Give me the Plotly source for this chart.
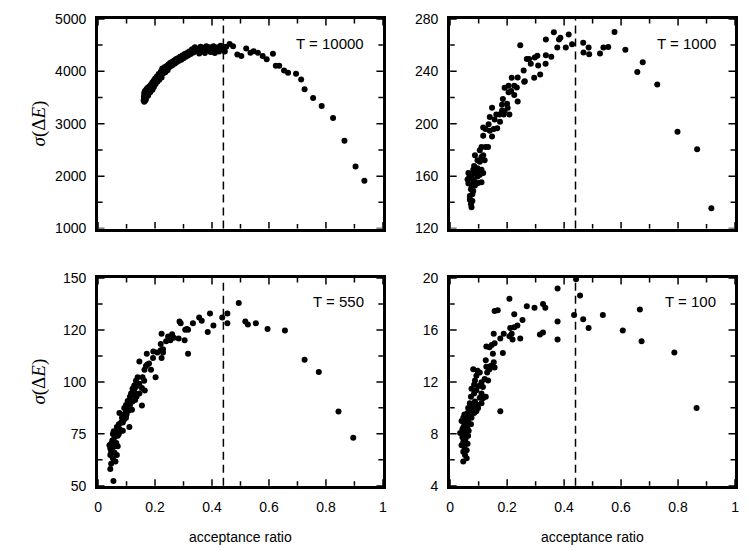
import plotly.graph_objects as go

# ---------------- data ----------------
T_labels = ["T = 10000", "T = 1000", "T = 550", "T = 100"]
optimal_ratio = 0.44

acc_10000 = [0.160, 0.161, 0.162, 0.163, 0.164, 0.165, 0.166, 0.167, 0.168, 0.169, 0.170, 0.171, 0.172, 0.173,
             0.174, 0.175, 0.176, 0.178, 0.179, 0.180, 0.182, 0.183, 0.185, 0.186, 0.188, 0.190, 0.191, 0.193,
             0.195, 0.196, 0.198, 0.200, 0.202, 0.204, 0.206, 0.208, 0.210, 0.213, 0.215, 0.218, 0.220, 0.223,
             0.225, 0.228, 0.230, 0.233, 0.236, 0.238, 0.241, 0.244, 0.247, 0.250, 0.253, 0.256, 0.259, 0.262,
             0.266, 0.270, 0.273, 0.277, 0.280, 0.284, 0.288, 0.292, 0.296, 0.300, 0.304, 0.308, 0.312, 0.316,
             0.320, 0.325, 0.330, 0.335, 0.340, 0.345, 0.350, 0.355, 0.360, 0.365, 0.370, 0.375, 0.380, 0.385,
             0.390, 0.395, 0.400, 0.405, 0.410, 0.415, 0.420, 0.425, 0.430, 0.435, 0.440, 0.445, 0.450, 0.162,
             0.165, 0.462, 0.474, 0.489, 0.503, 0.520, 0.535, 0.546, 0.561, 0.578, 0.592, 0.614, 0.624, 0.636,
             0.653, 0.667, 0.695, 0.713, 0.725, 0.755, 0.785, 0.825, 0.865, 0.904, 0.935]
sig_10000 = [3450, 3520, 3580, 3480, 3620, 3550, 3500, 3600, 3460, 3650, 3560, 3520, 3610, 3680,
             3580, 3640, 3540, 3700, 3620, 3660, 3720, 3600, 3680, 3750, 3700, 3780, 3650, 3740,
             3820, 3700, 3790, 3860, 3760, 3830, 3900, 3800, 3870, 3950, 3840, 3920, 3990, 3880,
             4050, 3960, 4010, 4080, 3980, 4040, 4100, 4020, 4130, 4080, 4160, 4100, 4180, 4120,
             4200, 4150, 4230, 4180, 4250, 4200, 4280, 4220, 4300, 4250, 4330, 4280, 4350, 4300,
             4380, 4330, 4420, 4360, 4460, 4390, 4430, 4340, 4470, 4400, 4450, 4350, 4480, 4410,
             4460, 4370, 4440, 4480, 4350, 4420, 4460, 4380, 4490, 4420, 4460, 4380, 4470, 3420,
             3440, 4520, 4477, 4323, 4292, 4434, 4354, 4385, 4354, 4292, 4231, 4335, 4108, 4108,
             4015, 3972, 3954, 3843, 3660, 3492, 3338, 3111, 2674, 2182, 1911]

acc_1000 = [0.577, 0.615, 0.657, 0.676, 0.727, 0.798, 0.867, 0.917, 0.467, 0.468, 0.486, 0.488, 0.526, 0.538,
            0.555, 0.428, 0.416, 0.406, 0.387, 0.382, 0.364, 0.376, 0.355, 0.336, 0.336, 0.335, 0.316, 0.309,
            0.306, 0.297, 0.295, 0.283, 0.277, 0.269, 0.262, 0.258, 0.260, 0.246, 0.237, 0.234, 0.237, 0.225,
            0.225, 0.216, 0.205, 0.214, 0.205, 0.200, 0.191, 0.185, 0.182, 0.191, 0.188, 0.208, 0.202, 0.182,
            0.173, 0.162, 0.156, 0.147, 0.175, 0.165, 0.153, 0.139, 0.135, 0.147, 0.139, 0.124, 0.116, 0.116,
            0.124, 0.133, 0.110, 0.104, 0.116, 0.121, 0.110, 0.104, 0.096, 0.087, 0.084, 0.096, 0.110, 0.116,
            0.104, 0.096, 0.081, 0.075, 0.081, 0.110, 0.098, 0.087, 0.075, 0.064, 0.066, 0.073, 0.078, 0.069,
            0.078, 0.073, 0.075, 0.069, 0.084, 0.064, 0.061, 0.081, 0.084, 0.093]
sig_1000 = [270.0, 256.4, 239.4, 246.9, 230.0, 193.9, 180.5, 135.4, 261.8, 254.4, 258.1, 253.1, 253.6, 258.1,
            258.6, 260.6, 268.1, 258.1, 265.6, 264.3, 269.8, 258.1, 251.1, 264.3, 252.3, 245.7, 237.5, 244.4,
            251.9, 250.6, 235.0, 245.7, 249.4, 249.4, 232.5, 240.7, 232.0, 259.9, 235.2, 227.7, 217.0, 229.0,
            222.0, 235.0, 229.0, 225.0, 224.0, 215.3, 227.5, 218.8, 214.5, 209.6, 207.1, 207.1, 212.1, 210.0,
            207.1, 207.1, 203.3, 212.1, 201.6, 196.6, 195.9, 205.1, 199.6, 190.2, 194.6, 195.9, 197.1, 190.9,
            182.2, 182.2, 182.2, 179.7, 176.0, 172.2, 174.7, 171.0, 172.2, 176.0, 167.8, 166.0, 164.8, 162.3,
            161.1, 159.8, 164.8, 159.8, 157.4, 155.3, 154.8, 152.8, 153.5, 154.3, 158.6, 149.9, 146.1, 144.9,
            141.1, 138.7, 136.2, 141.9, 156.1, 162.3, 157.4, 148.6, 162.3, 163.6]

acc_550 = [0.494, 0.454, 0.454, 0.436, 0.393, 0.405, 0.385, 0.364, 0.355, 0.333, 0.316, 0.312, 0.306, 0.316,
           0.304, 0.290, 0.286, 0.283, 0.266, 0.260, 0.254, 0.246, 0.239, 0.223, 0.220, 0.228, 0.228, 0.223,
           0.220, 0.208, 0.202, 0.194, 0.193, 0.186, 0.179, 0.171, 0.173, 0.168, 0.163, 0.145, 0.162, 0.156,
           0.154, 0.164, 0.154, 0.145, 0.133, 0.133, 0.127, 0.145, 0.135, 0.121, 0.119, 0.112, 0.121, 0.112,
           0.104, 0.098, 0.107, 0.098, 0.092, 0.089, 0.084, 0.098, 0.110, 0.081, 0.075, 0.073, 0.066, 0.075,
           0.081, 0.064, 0.055, 0.058, 0.069, 0.054, 0.046, 0.064, 0.069, 0.054, 0.043, 0.046, 0.058, 0.043,
           0.066, 0.052, 0.061, 0.046, 0.043, 0.054, 0.040, 0.050, 0.087, 0.092, 0.100, 0.116, 0.127, 0.139,
           0.130, 0.119, 0.100, 0.087, 0.073, 0.052, 0.517, 0.526, 0.554, 0.595, 0.656, 0.725, 0.775, 0.844,
           0.896]
sig_550 = [138.0, 132.9, 128.2, 131.0, 132.9, 127.1, 124.0, 129.4, 131.0, 128.2, 125.1, 125.5, 125.1, 113.6,
           120.1, 128.2, 129.1, 120.9, 121.3, 122.9, 120.1, 121.9, 119.6, 123.2, 118.2, 115.7, 114.2, 111.5,
           115.2, 114.2, 102.2, 114.6, 111.5, 105.8, 108.9, 113.6, 108.4, 107.6, 105.8, 109.8, 100.6, 102.2,
           97.0, 95.9, 88.6, 99.1, 100.6, 97.5, 95.2, 94.4, 92.8, 96.7, 93.6, 92.8, 90.5, 88.9,
           90.8, 88.9, 86.1, 85.8, 87.4, 84.3, 82.7, 82.7, 78.3, 80.4, 85.0, 79.6, 78.3, 77.3,
           76.5, 75.7, 76.2, 73.4, 74.1, 71.0, 70.2, 70.6, 69.0, 68.7, 67.9, 66.4, 65.9, 64.8,
           64.8, 63.2, 61.7, 60.6, 58.1, 52.3, 69.5, 71.8, 80.4, 82.0, 87.4, 94.4, 98.3, 102.2,
           91.3, 86.6, 84.3, 76.5, 74.9, 74.9, 129.1, 127.6, 128.2, 125.5, 124.8, 110.7, 104.8, 85.8,
           73.1]

acc_100 = [0.442, 0.456, 0.377, 0.435, 0.467, 0.486, 0.536, 0.606, 0.666, 0.672, 0.787, 0.865, 0.377, 0.377,
           0.326, 0.334, 0.296, 0.269, 0.254, 0.236, 0.225, 0.216, 0.225, 0.211, 0.208, 0.219, 0.208, 0.246,
           0.315, 0.326, 0.188, 0.176, 0.153, 0.167, 0.156, 0.156, 0.185, 0.176, 0.150, 0.138, 0.146, 0.127,
           0.125, 0.153, 0.142, 0.138, 0.156, 0.127, 0.130, 0.133, 0.121, 0.104, 0.096, 0.081, 0.092, 0.087,
           0.110, 0.084, 0.100, 0.115, 0.110, 0.125, 0.115, 0.104, 0.092, 0.075, 0.084, 0.073, 0.087, 0.096,
           0.081, 0.069, 0.063, 0.075, 0.061, 0.084, 0.069, 0.058, 0.050, 0.063, 0.052, 0.046, 0.073, 0.061,
           0.050, 0.040, 0.046, 0.058, 0.035, 0.050, 0.063, 0.043, 0.054, 0.046, 0.061, 0.050, 0.058, 0.046,
           0.052, 0.058, 0.046, 0.040, 0.043, 0.065, 0.075, 0.092, 0.098, 0.110]
sig_100 = [19.90, 18.65, 19.20, 17.16, 16.83, 16.16, 17.16, 15.96, 17.58, 15.14, 14.27, 9.98, 16.66, 15.26,
           18.00, 17.71, 17.71, 17.83, 16.76, 16.34, 16.21, 15.71, 17.21, 16.16, 15.51, 15.26, 18.40, 15.34,
           15.66, 15.81, 15.71, 15.34, 15.71, 17.51, 17.46, 14.97, 14.22, 9.73, 14.17, 14.67, 14.84, 14.72,
           13.67, 13.52, 13.22, 12.97, 13.10, 13.17, 12.72, 12.10, 12.22, 12.72, 12.85, 12.97, 12.47, 12.10,
           11.98, 11.78, 11.68, 11.60, 11.10, 10.85, 10.73, 10.78, 11.35, 11.48, 11.10, 10.85, 10.48, 10.23,
           10.11, 10.36, 9.98, 9.78, 9.61, 9.61, 9.36, 9.23, 9.48, 8.98, 9.03, 9.23, 8.74, 8.61,
           8.74, 8.98, 8.49, 8.36, 8.07, 7.99, 7.86, 7.74, 7.61, 7.36, 7.24, 6.99, 6.74, 6.62,
           6.37, 6.12, 5.87, 7.11, 8.36, 8.24, 9.23, 9.73, 9.98, 10.36]

# axis ranges / ticks
y_ranges = [[1000, 5000], [120, 280], [50, 150], [4, 20]]
y_tickvals = [[1000, 2000, 3000, 4000, 5000],
              [120, 160, 200, 240, 280],
              [50, 75, 100, 125, 150],
              [4, 8, 12, 16, 20]]
y_ticktext = [["1000", "2000", "3000", "4000", "5000"],
              ["120", "160", "200", "240", "280"],
              ["50", "75", "100", "120", "150"],
              ["4", "8", "12", "16", "20"]]
y_minor_vals = [[1500, 2500, 3500, 4500],
                [140, 180, 220, 260],
                [62.5, 87.5, 112.5, 137.5],
                [6, 10, 14, 18]]
x_range = [0, 1]
x_tickvals = [0, 0.2, 0.4, 0.6, 0.8, 1]
x_ticktext = ["0", "0.2", "0.4", "0.6", "0.8", "1"]
x_minor_vals = [0.1, 0.3, 0.5, 0.7, 0.9]

xs = [acc_10000, acc_1000, acc_550, acc_100]
ys = [sig_10000, sig_1000, sig_550, sig_100]

# ---------------- layout ----------------
# the page body has an 8px margin: work in page pixels, convert to figure pixels
OFF = 8
W, H = 749 - 2 * OFF, 559 - 2 * OFF


def px(v):
    return (v - OFF) / W


def py(v):
    return 1 - (v - OFF) / H


x_domains = [[px(95), px(383)], [px(451), px(739)], [px(95), px(383)], [px(451), px(739)]]
y_domains = [[py(227), py(11)], [py(227), py(11)], [py(492), py(278)], [py(492), py(278)]]

fig = go.Figure()
tick_font = dict(family="Liberation Sans, Arial, sans-serif", size=14, color="black")

layout = dict(width=W, height=H, margin=dict(l=0, r=0, t=0, b=0),
              paper_bgcolor="white", plot_bgcolor="white", showlegend=False)

common = dict(ticks="", showline=True, linewidth=3, linecolor="black", mirror=True,
              showgrid=False, zeroline=False, tickfont=tick_font)
for i in range(4):
    n = "" if i == 0 else str(i + 1)
    fig.add_trace(go.Scatter(x=xs[i], y=ys[i], mode="markers",
                             marker=dict(color="black", size=6, line=dict(width=0)),
                             xaxis="x" + n, yaxis="y" + n, cliponaxis=True))
    layout["xaxis" + n] = dict(domain=x_domains[i], range=x_range, anchor="y" + n,
                               tickmode="array", tickvals=x_tickvals, ticktext=x_ticktext,
                               showticklabels=(i >= 2), ticklabelstandoff=6, **common)
    layout["yaxis" + n] = dict(domain=y_domains[i], range=y_ranges[i], anchor="x" + n,
                               tickmode="array", tickvals=y_tickvals[i], ticktext=y_ticktext[i],
                               ticklabelstandoff=6, **common)

fig.update_layout(**layout)

shapes = []
annotations = []
MAJ, MIN = 6.5, 4.5   # pixel half-lengths; the outer half is clipped by the plot area
tick_line = dict(color="black", width=1.5)
for i in range(4):
    n = "" if i == 0 else str(i + 1)
    xr, yr = "x" + n, "y" + n
    # inward tick marks on all four sides (clipped to the plot area)
    for vals, L in ((x_tickvals, MAJ), (x_minor_vals, MIN)):
        for v in vals:
            for anchor in y_ranges[i]:
                shapes.append(dict(type="line", xref=xr, yref=yr, x0=v, x1=v,
                                   ysizemode="pixel", yanchor=anchor, y0=-L, y1=L,
                                   line=tick_line, layer="above"))
    for vals, L in ((y_tickvals[i], MAJ), (y_minor_vals[i], MIN)):
        for v in vals:
            for anchor in x_range:
                shapes.append(dict(type="line", xref=xr, yref=yr, y0=v, y1=v,
                                   xsizemode="pixel", xanchor=anchor, x0=-L, x1=L,
                                   line=tick_line, layer="above"))
    shapes.append(dict(type="line", xref=xr, yref=yr + " domain",
                       x0=optimal_ratio, x1=optimal_ratio, y0=0, y1=1,
                       line=dict(color="black", width=1.5, dash="8px,5px"), layer="below"))
    annotations.append(dict(text=T_labels[i], xref=xr + " domain", yref=yr + " domain",
                            x=0.94, y=0.885, xanchor="right", yanchor="middle", showarrow=False,
                            font=dict(family="Liberation Sans, Arial, sans-serif", size=15, color="black")))

# y-axis titles
for yc in [py(119), py(385)]:
    annotations.append(dict(text="<i>σ</i>(Δ<i>E</i>)", xref="paper", yref="paper", x=px(35), y=yc,
                            xanchor="center", yanchor="middle", textangle=-90, showarrow=False,
                            font=dict(family="Liberation Serif, Times New Roman, serif", size=19,
                                      color="black")))
# x-axis titles
for xc in [px(239), px(595)]:
    annotations.append(dict(text="acceptance ratio", xref="paper", yref="paper", x=xc, y=py(545),
                            xanchor="center", yanchor="middle", showarrow=False,
                            font=dict(family="Liberation Sans, Arial, sans-serif", size=14,
                                      color="black")))

fig.update_layout(shapes=shapes, annotations=annotations)
fig.write_html("out.html")
